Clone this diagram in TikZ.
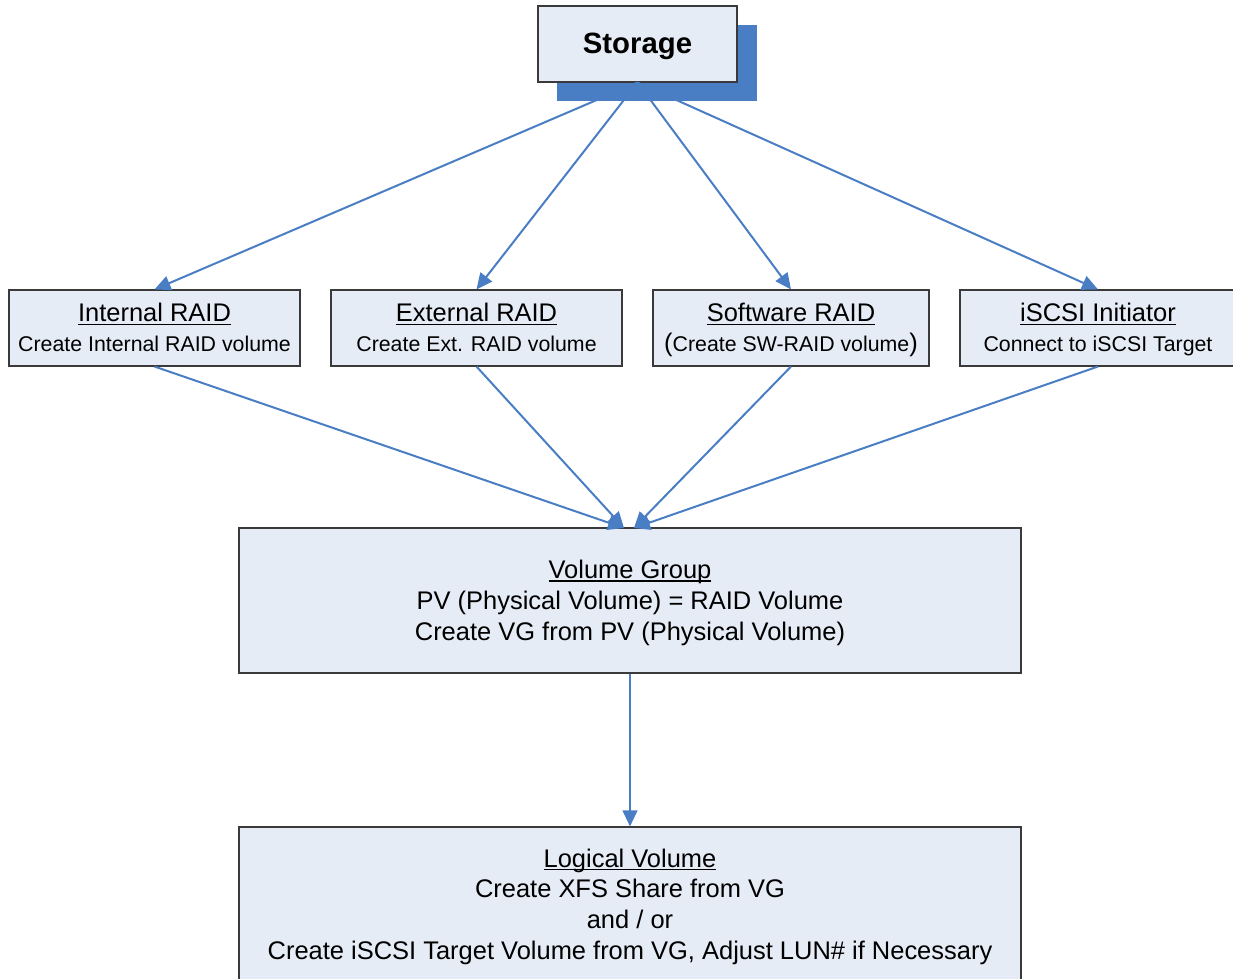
\documentclass[tikz,border=0pt]{standalone}
\usepackage{fontspec}
\setmainfont{Liberation Sans}
\usetikzlibrary{arrows.meta}
\definecolor{lineblue}{HTML}{4A7EC4}
\definecolor{boxfill}{HTML}{E6ECF6}
\definecolor{boxline}{HTML}{3A3A3A}
\tikzset{
  box/.style={draw=boxline, line width=0.8pt, fill=boxfill, align=center, inner sep=0pt, minimum height=57pt},
  conn/.style={draw=lineblue, line width=1.5pt, -{Triangle[length=12pt,width=11pt]}},
  big/.style={font=\fontsize{19.1}{23}\selectfont},
  small/.style={font=\fontsize{16}{22.5}\selectfont}
}
\newcommand{\ulx}[1]{\setbox0\hbox{#1}\rlap{\rule[-0.13em]{\wd0}{0.065em}}\box0}
\newcommand{\topstrut}{\rule{0pt}{\dimexpr\ht\strutbox+4.3pt\relax}}
\newcommand{\titl}[1]{{\fontsize{19.1}{22.5}\selectfont\ulx{#1}\topstrut}}
\newcommand{\sub}[1]{#1\strut}
\begin{document}
\begin{tikzpicture}[x=0.75pt,y=-0.75pt]
\useasboundingbox (0,0) rectangle (1233,979);
\begin{scope}
\clip (0,0) rectangle (1233,979);
% storage shadow
\fill[lineblue] (557,25) rectangle (757,101);
\node[box, minimum width=149.25pt, font=\fontsize{22}{26}\selectfont\bfseries] (storage) at (637.5,44) {Storage\strut\topstrut};

\node[box, minimum width=218.25pt, small] (b1) at (154.5,328) {\titl{Internal RAID}\\\sub{Create Internal RAID volume}};
\node[box, minimum width=218.25pt, small] (b2) at (476.5,328) {\titl{External RAID}\\\sub{Create Ext. RAID volume}};
\node[box, minimum width=207pt, small] (b3) at (791,328) {\titl{Software RAID}\\\sub{\smash{\fontsize{19.1}{22.5}\selectfont(}Create SW-RAID volume\smash{\fontsize{19.1}{22.5}\selectfont)}}};
\node[box, minimum width=207pt, small] (b4) at (1098,328) {\titl{iSCSI Initiator}\\\sub{Connect to iSCSI Target}};

\node[box, minimum width=586.5pt, minimum height=108.75pt, big] (vg) at (630,600.5) {\ulx{Volume Group}\topstrut\\PV (Physical Volume) = RAID Volume\\Create VG from PV (Physical Volume)\strut};
\node[box, minimum width=586.5pt, minimum height=115.5pt, big] (lv) at (630,904) {\ulx{Logical Volume}\topstrut\\Create XFS Share from VG\\and / or\\Create iSCSI Target Volume from VG, Adjust LUN\# if Necessary\strut};

\coordinate (vgl) at (624,528);
\coordinate (vgr) at (634,528);

\draw[conn] (storage.south) -- (b1.north);
\draw[conn] (storage.south) -- (b2.north);
\draw[conn] (storage.south) -- (b3.north);
\draw[conn] (storage.south) -- (b4.north);

\draw[conn] (b1.south) -- (vgl);
\draw[conn] (b2.south) -- (vgl);
\draw[conn] (b3.south) -- (vgr);
\draw[conn] (b4.south) -- (vgr);

\draw[conn] (vg.south) -- (lv.north);
\end{scope}
\end{tikzpicture}
\end{document}
